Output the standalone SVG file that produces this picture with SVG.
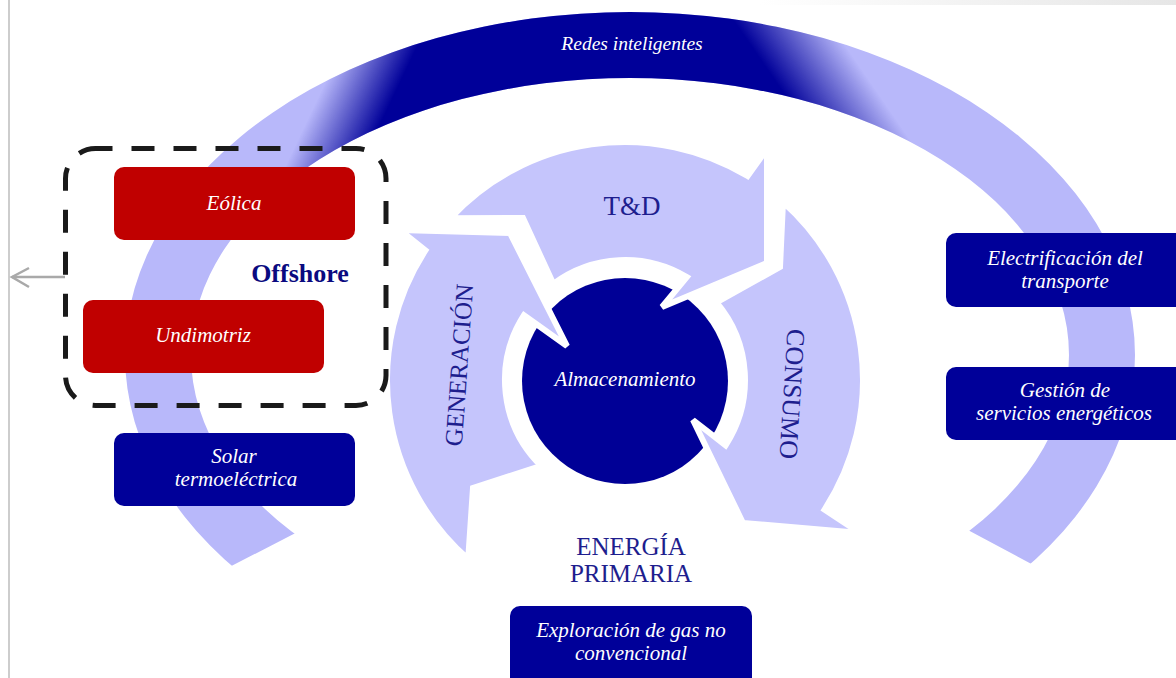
<svg xmlns="http://www.w3.org/2000/svg" xmlns:xlink="http://www.w3.org/1999/xlink" width="1176" height="678" viewBox="0 0 1176 678">
  <style>
    .lbl { font-family: "Liberation Serif", "Times New Roman", serif; font-style: italic; font-size: 21px; fill: #ffffff; text-anchor: middle; }
    .cap { font-family: "Liberation Serif", "Times New Roman", serif; fill: #1e1e8e; text-anchor: middle; }
    .red { fill: #c00000; }
    .navy { fill: #000099; }
    .cyc { fill: #c5c5fc; stroke: #ffffff; stroke-width: 6; stroke-linejoin: miter; }
  </style>
  <defs>
    <!-- band of the outer ring (even-odd ellipse pair) -->
    <path id="ringShape" fill-rule="evenodd"
          d="M125,355 A505,343 0 1 1 1135,355 A505,343 0 1 1 125,355 Z
             M191,355 A439,277 0 1 0 1069,355 A439,277 0 1 0 191,355 Z"/>
    <!-- removes the lower wedge of the ring -->
    <clipPath id="ringCut">
      <path d="M640,355 L-204,791 L-300,-300 L1500,-300 L1453,789 Z"/>
    </clipPath>
    <linearGradient id="fadeLeft" gradientUnits="userSpaceOnUse" x1="316" y1="102" x2="377" y2="131">
      <stop offset="0" stop-color="#000"/>
      <stop offset="1" stop-color="#fff"/>
    </linearGradient>
    <linearGradient id="fadeRight" gradientUnits="userSpaceOnUse" x1="763" y1="63" x2="827" y2="19">
      <stop offset="0" stop-color="#fff"/>
      <stop offset="1" stop-color="#000"/>
    </linearGradient>
    <mask id="topDark" maskUnits="userSpaceOnUse" x="0" y="0" width="1176" height="678">
      <polygon points="630,355 630,-10 0,-10 0,150" fill="url(#fadeLeft)"/>
      <polygon points="630,355 630,-10 1176,-10 1176,150" fill="url(#fadeRight)"/>
    </mask>
    <linearGradient id="edgeShade" x1="0" y1="0" x2="1" y2="0">
      <stop offset="0" stop-color="#ffffff"/>
      <stop offset="1" stop-color="#e6e6e6"/>
    </linearGradient>
  </defs>

  <rect width="1176" height="678" fill="#ffffff"/>
  <rect x="760" y="0" width="416" height="5" fill="url(#edgeShade)"/>
  <line x1="9" y1="0" x2="9" y2="678" stroke="#bdbdbd" stroke-width="1.5"/>

  <!-- outer ring: light band with dark crown -->
  <g id="ring" clip-path="url(#ringCut)">
    <use xlink:href="#ringShape" fill="#b8b8fa"/>
    <use xlink:href="#ringShape" fill="#000099" mask="url(#topDark)"/>
  </g>
  <text class="lbl" x="632" y="50" style="font-size:19.5px">Redes inteligentes</text>

  <!-- central storage disc -->
  <g id="almacenamiento">
    <circle cx="625" cy="381" r="103" fill="#000096"/>
  </g>

  <!-- cycle arrows -->
  <g id="generacion">
    <path class="cyc" d="M468.2,559.1 A238,238 0 0 1 425.4,250.4 L400,230 L510,233 L567,346 L524,315.2 A120,120 0 0 0 541.2,465.9 L473,488 Z"/>
    <text class="cap" transform="translate(459,365) rotate(-86)" x="0" y="8.5" style="font-size:25px">GENERACIÓN</text>
  </g>
  <g id="td">
    <path class="cyc" d="M450.4,218.3 A238,238 0 0 1 747.6,176 L767,149 L767,263 L662,307 L686.8,277.1 A120,120 0 0 0 553.3,283.8 L523,218 Z"/>
    <text class="cap" x="632" y="215" style="font-size:27px">T&amp;D</text>
  </g>
  <g id="consumo">
    <path class="cyc" d="M783,202 A238,238 0 0 1 824.6,509.6 L860,533 L743,523 L693,420 L725.6,445.4 A120,120 0 0 0 716.5,302.4 L780,267 Z"/>
    <text class="cap" transform="translate(792,394) rotate(93.5)" x="0" y="8.5" style="font-size:26px">CONSUMO</text>
  </g>
  <text class="lbl" x="625" y="386">Almacenamiento</text>

  <g id="energia-primaria">
    <text class="cap" x="631" y="555" style="font-size:25px">ENERGÍA</text>
    <text class="cap" x="631" y="582" style="font-size:25px">PRIMARIA</text>
  </g>

  <!-- offshore group -->
  <g id="offshore">
    <rect x="65.5" y="148.5" width="320.5" height="257" rx="30" ry="30" fill="none" stroke="#1a1a1a" stroke-width="5" stroke-dasharray="23 19" stroke-dashoffset="6"/>
    <text x="300" y="282" style="font-family:'Liberation Serif','Times New Roman',serif;font-weight:bold;font-size:26px;fill:#0a0a80;text-anchor:middle">Offshore</text>
  </g>
  <g id="eolica">
    <rect class="red" x="114" y="167" width="241" height="73" rx="10"/>
    <text class="lbl" x="234" y="210">Eólica</text>
  </g>
  <g id="undimotriz">
    <rect class="red" x="83" y="300" width="241" height="73" rx="10"/>
    <text class="lbl" x="203" y="342">Undimotriz</text>
  </g>
  <g id="solar">
    <rect class="navy" x="114" y="433" width="241" height="73" rx="10"/>
    <text class="lbl" x="234" y="463">Solar</text>
    <text class="lbl" x="236" y="486">termoeléctrica</text>
  </g>
  <g id="electrificacion">
    <rect class="navy" x="946" y="233" width="240" height="74" rx="10"/>
    <text class="lbl" x="1065" y="265">Electrificación del</text>
    <text class="lbl" x="1065" y="288">transporte</text>
  </g>
  <g id="gestion">
    <rect class="navy" x="946" y="367" width="240" height="73" rx="10"/>
    <text class="lbl" x="1065" y="397">Gestión de</text>
    <text class="lbl" x="1064" y="420">servicios energéticos</text>
  </g>
  <g id="exploracion">
    <rect class="navy" x="510" y="606" width="242" height="84" rx="10"/>
    <text class="lbl" x="631" y="637">Exploración de gas no</text>
    <text class="lbl" x="631" y="660">convencional</text>
  </g>

  <!-- pointer leaving the offshore group -->
  <g id="connectors" fill="none" stroke="#a9a9a9" stroke-width="2.5">
    <line x1="65" y1="277" x2="12" y2="277"/>
    <polyline points="29,268 12,277 29,287"/>
  </g>
</svg>
